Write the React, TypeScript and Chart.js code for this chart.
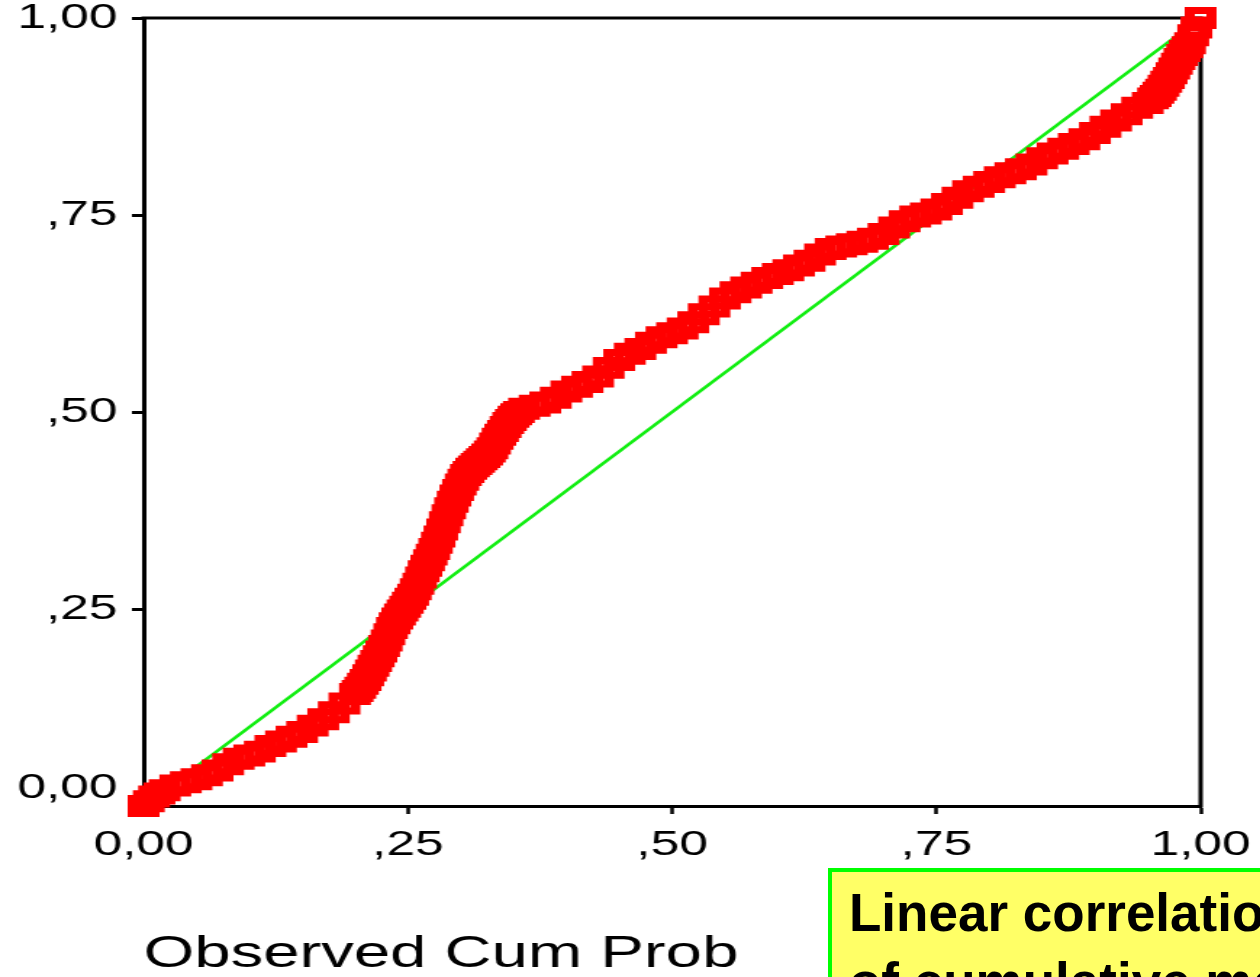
import React, { useEffect, useRef } from 'react';
import { Chart, registerables } from 'chart.js';

Chart.register(...registerables);

// Observed cumulative probability (x) and expected cumulative probability (y)
const OBS_CUM_PROB = [
  0.000, 0.005, 0.010, 0.015, 0.020, 0.030, 0.040, 0.050, 0.060, 0.070,
  0.080, 0.090, 0.100, 0.110, 0.120, 0.130, 0.140, 0.150, 0.160, 0.170,
  0.180, 0.190, 0.200, 0.2025, 0.205, 0.2075, 0.210, 0.2125, 0.215, 0.2175,
  0.220, 0.2225, 0.225, 0.2275, 0.230, 0.2325, 0.235, 0.2375, 0.240, 0.2425,
  0.245, 0.2475, 0.250, 0.2525, 0.255, 0.2575, 0.260, 0.2625, 0.265, 0.2675,
  0.270, 0.2725, 0.275, 0.2775, 0.280, 0.2825, 0.285, 0.2875, 0.290, 0.2925,
  0.295, 0.2975, 0.300, 0.3025, 0.305, 0.3075, 0.310, 0.3125, 0.315, 0.3175,
  0.320, 0.3225, 0.325, 0.3275, 0.330, 0.3325, 0.335, 0.3375, 0.340, 0.3425,
  0.345, 0.3475, 0.350, 0.3525, 0.355, 0.360, 0.370, 0.380, 0.390, 0.400,
  0.410, 0.420, 0.430, 0.440, 0.450, 0.460, 0.470, 0.480, 0.490, 0.500,
  0.510, 0.520, 0.530, 0.540, 0.550, 0.560, 0.570, 0.580, 0.590, 0.600,
  0.610, 0.620, 0.630, 0.640, 0.650, 0.660, 0.670, 0.680, 0.690, 0.700,
  0.710, 0.720, 0.730, 0.740, 0.750, 0.760, 0.770, 0.780, 0.790, 0.800,
  0.810, 0.820, 0.830, 0.840, 0.850, 0.860, 0.870, 0.880, 0.890, 0.900,
  0.910, 0.920, 0.930, 0.940, 0.950, 0.955, 0.9575, 0.960, 0.9625, 0.965,
  0.9675, 0.970, 0.9725, 0.975, 0.9775, 0.980, 0.9825, 0.985, 0.9875, 0.990,
  0.993, 0.996, 1.000,
];
const EXP_CUM_PROB = [
  0.000, 0.006, 0.012, 0.016, 0.020, 0.026, 0.030, 0.034, 0.039, 0.045,
  0.053, 0.060, 0.064, 0.069, 0.076, 0.082, 0.088, 0.094, 0.102, 0.110,
  0.119, 0.130, 0.142, 0.146, 0.150, 0.155, 0.160, 0.166, 0.172, 0.178,
  0.184, 0.190, 0.196, 0.203, 0.210, 0.218, 0.226, 0.232, 0.238, 0.243,
  0.248, 0.253, 0.258, 0.263, 0.268, 0.275, 0.282, 0.290, 0.298, 0.305,
  0.312, 0.319, 0.326, 0.334, 0.342, 0.351, 0.360, 0.369, 0.378, 0.386,
  0.394, 0.401, 0.408, 0.414, 0.420, 0.424, 0.428, 0.431, 0.434, 0.437,
  0.440, 0.443, 0.446, 0.450, 0.454, 0.460, 0.466, 0.471, 0.476, 0.481,
  0.486, 0.490, 0.494, 0.497, 0.500, 0.504, 0.508, 0.512, 0.518, 0.526,
  0.532, 0.538, 0.545, 0.556, 0.566, 0.574, 0.580, 0.588, 0.595, 0.600,
  0.606, 0.614, 0.624, 0.634, 0.644, 0.652, 0.658, 0.664, 0.670, 0.675,
  0.680, 0.686, 0.692, 0.700, 0.707, 0.710, 0.713, 0.716, 0.720, 0.726,
  0.734, 0.742, 0.748, 0.752, 0.757, 0.764, 0.772, 0.780, 0.786, 0.792,
  0.798, 0.803, 0.808, 0.814, 0.822, 0.828, 0.834, 0.840, 0.846, 0.854,
  0.862, 0.870, 0.878, 0.886, 0.892, 0.898, 0.901, 0.905, 0.909, 0.914,
  0.919, 0.924, 0.930, 0.936, 0.942, 0.948, 0.953, 0.958, 0.963, 0.968,
  0.978, 0.988, 1.000,
];

// Reference (diagonal) line
const REF_LINE_X = [0, 1];
const REF_LINE_Y = [0, 1];

const TICK_VALUES = [0, 0.25, 0.5, 0.75, 1];
const TICK_LABELS = ['0,00', ',25', ',50', ',75', '1,00'];
const X_TITLE = 'Observed Cum Prob';
const NOTE_LINES = ['Linear correlation', 'of cumulative measures'];

const STRETCH = 1.45;
const W = Math.round(1260 / STRETCH);
const H = 977;
const FONT = '"Liberation Sans", Arial, sans-serif';

function tickLabel(v: number): string {
  const i = TICK_VALUES.findIndex((t) => Math.abs(t - v) < 1e-9);
  return i >= 0 ? TICK_LABELS[i] : '';
}

const framePlugin = {
  id: 'frame',
  beforeDatasetsDraw(chart: any) {
    const { ctx, chartArea } = chart;
    const { left, top, right, bottom } = chartArea;
    ctx.save();
    ctx.strokeStyle = '#000';
    ctx.lineWidth = 3;
    ctx.lineCap = 'square';
    ctx.beginPath();
    ctx.moveTo(left, top);
    ctx.lineTo(right, top);
    ctx.lineTo(right, bottom);
    ctx.stroke();
    ctx.restore();
  },
};

export default function App() {
  const canvasRef = useRef<HTMLCanvasElement | null>(null);

  useEffect(() => {
    const canvas = canvasRef.current;
    if (!canvas) return;
    const points = OBS_CUM_PROB.map((x, i) => ({ x, y: EXP_CUM_PROB[i] }));
    const refLine = REF_LINE_X.map((x, i) => ({ x, y: REF_LINE_Y[i] }));

    const chart = new Chart(canvas, {
      type: 'scatter',
      data: {
        datasets: [
          {
            label: 'Observed',
            data: points,
            order: 0,
            pointStyle: 'rect',
            pointRadius: 10.6,
            pointBorderWidth: 7,
            pointBorderColor: '#ff0000',
            pointBackgroundColor: 'rgba(0,0,0,0)',
            borderColor: '#ff0000',
            backgroundColor: 'rgba(0,0,0,0)',
            showLine: false,
            clip: false as any,
          },
          {
            type: 'line' as any,
            label: 'Reference',
            data: refLine,
            order: 1,
            borderColor: '#11ee11',
            borderWidth: 2.6,
            pointRadius: 0,
            showLine: true,
            fill: false,
            tension: 0,
          },
        ],
      },
      options: {
        responsive: false,
        maintainAspectRatio: false,
        animation: false,
        events: [],
        layout: {
          autoPadding: false,
          padding: { top: 18, right: 41, bottom: 0, left: 0 },
        } as any,
        plugins: {
          legend: { display: false },
          tooltip: { enabled: false },
          title: { display: false },
        },
        scales: {
          x: {
            type: 'linear',
            min: 0,
            max: 1,
            afterBuildTicks: (s: any) => {
              s.ticks = TICK_VALUES.map((v) => ({ value: v }));
            },
            afterFit: (s: any) => {
              s.height = 171;
              s.paddingLeft = 0;
              s.paddingRight = 0;
              s.paddingTop = 0;
              s.paddingBottom = 0;
            },
            border: { display: true, color: '#000', width: 3 },
            grid: {
              display: true,
              drawOnChartArea: false,
              drawTicks: true,
              tickLength: 8,
              tickWidth: 2.5,
              tickColor: '#000',
            },
            ticks: {
              autoSkip: false,
              maxRotation: 0,
              padding: 13,
              color: '#000',
              font: { family: FONT, size: 35.5, lineHeight: 1 },
              callback: (v: any) => tickLabel(Number(v)),
            },
            title: {
              display: true,
              text: X_TITLE,
              align: 'start',
              color: '#000',
              padding: { top: 0, bottom: 0 },
              font: { family: FONT, size: 45, lineHeight: 1 },
            },
          },
          y: {
            type: 'linear',
            min: 0,
            max: 1,
            afterBuildTicks: (s: any) => {
              s.ticks = TICK_VALUES.map((v) => ({ value: v }));
            },
            afterFit: (s: any) => {
              s.width = 99;
              s.paddingLeft = 0;
              s.paddingRight = 0;
              s.paddingTop = 0;
              s.paddingBottom = 0;
            },
            border: { display: true, color: '#000', width: 3 },
            grid: {
              display: true,
              drawOnChartArea: false,
              drawTicks: true,
              tickLength: 8,
              tickWidth: 3,
              tickColor: '#000',
            },
            ticks: {
              autoSkip: false,
              padding: 10,
              color: '#000',
              font: { family: FONT, size: 35.5, lineHeight: 1 },
              callback: (v: any) => {
                const lbl = tickLabel(Number(v));
                return Number(v) === 0 ? [lbl, ''] : lbl;
              },
            },
          },
        },
      },
      plugins: [framePlugin],
    });

    return () => {
      chart.destroy();
    };
  }, []);

  return (
    <div
      style={{
        position: 'fixed',
        left: 0,
        top: 0,
        width: 1260,
        height: 977,
        overflow: 'hidden',
        background: '#fff',
      }}
    >
      <div
        style={{
          position: 'absolute',
          left: 0,
          top: 0,
          width: W,
          height: H,
          transform: `scaleX(${STRETCH})`,
          transformOrigin: '0 0',
        }}
      >
        <canvas
          ref={canvasRef}
          width={W}
          height={H}
          style={{ display: 'block', width: W, height: H }}
        />
      </div>
      <div
        style={{
          position: 'absolute',
          left: 828,
          top: 868,
          width: 520,
          height: 160,
          boxSizing: 'border-box',
          border: '4px solid #00ff00',
          background: '#ffff66',
          padding: '6px 0 0 17px',
          fontFamily: FONT,
          fontWeight: 'bold',
          fontSize: 53,
          lineHeight: '69px',
          color: '#000',
          whiteSpace: 'nowrap',
        }}
      >
        {NOTE_LINES.map((t, i) => (
          <div key={i}>{t}</div>
        ))}
      </div>
    </div>
  );
}
